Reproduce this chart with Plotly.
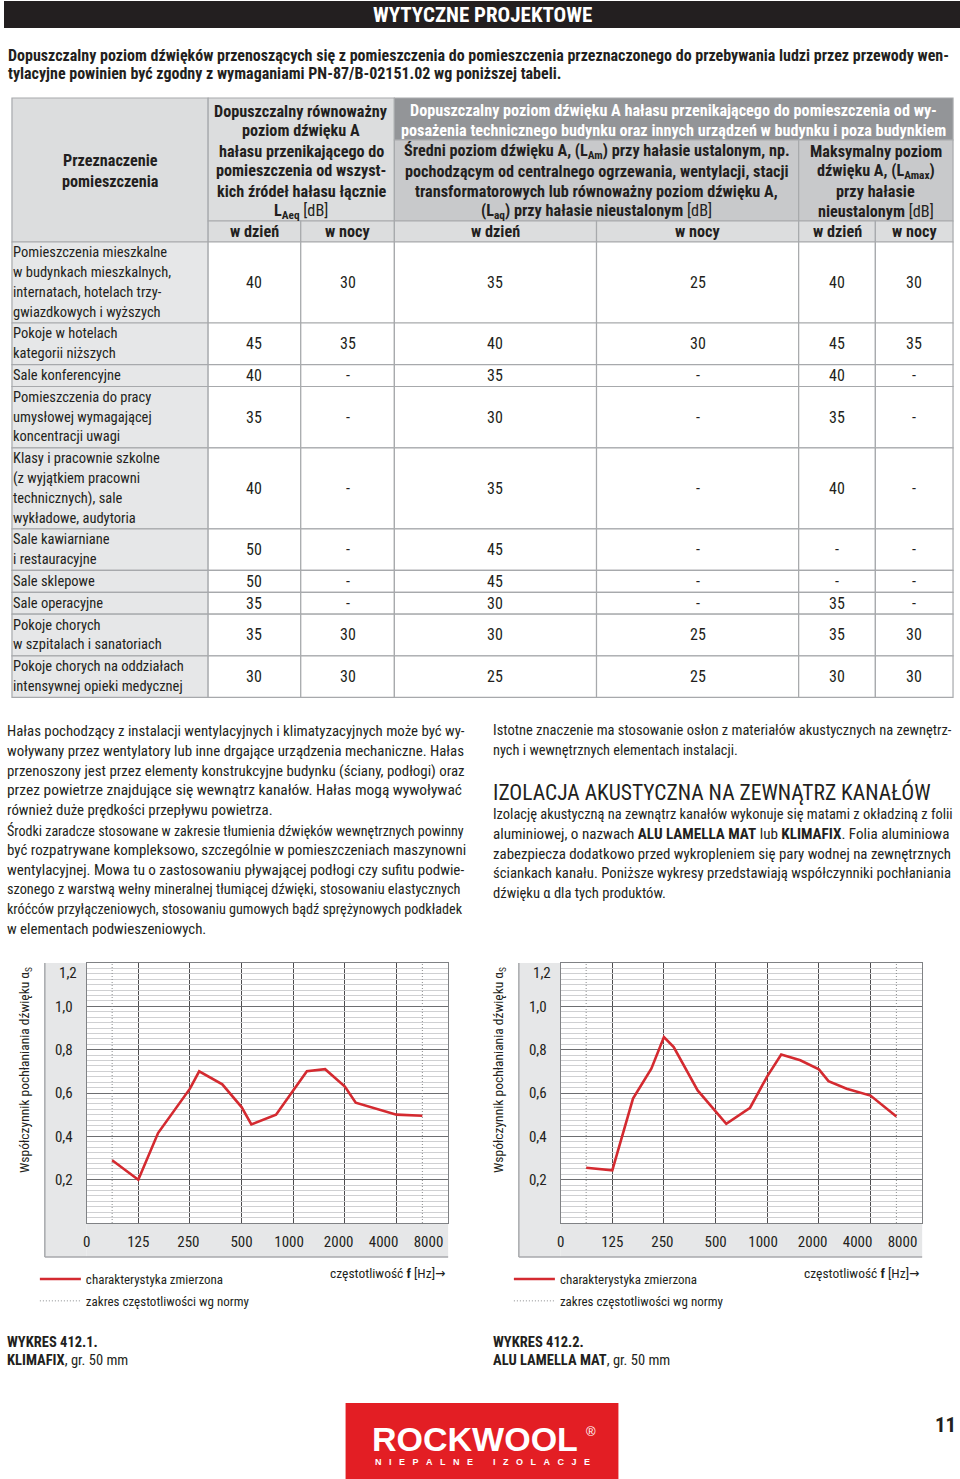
import numpy as np
import plotly.graph_objects as go

W, H = 960, 1479
FONT = "Liberation Sans Narrow, Roboto Condensed, DejaVu Sans Condensed, Arial Narrow, sans-serif"
TXT = "#231f20"
RED = "#d42a30"
GRID = "#a7a9ac"

# ---- table data ----
ROOMS = [
    ["Pomieszczenia mieszkalne", "w budynkach mieszkalnych,", "internatach, hotelach trzy-", "gwiazdkowych i wyższych"],
    ["Pokoje w hotelach", "kategorii niższych"],
    ["Sale konferencyjne"],
    ["Pomieszczenia do pracy", "umysłowej wymagającej", "koncentracji uwagi"],
    ["Klasy i pracownie szkolne", "(z wyjątkiem pracowni", "technicznych), sale", "wykładowe, audytoria"],
    ["Sale kawiarniane", "i restauracyjne"],
    ["Sale sklepowe"],
    ["Sale operacyjne"],
    ["Pokoje chorych", "w szpitalach i sanatoriach"],
    ["Pokoje chorych na oddziałach", "intensywnej opieki medycznej"],
]
LAEQ_DAY = [40, 45, 40, 35, 40, 50, 50, 35, 35, 30]
LAEQ_NIGHT = [30, 35, None, None, None, None, None, None, 30, 30]
LAM_DAY = [35, 40, 35, 30, 35, 45, 45, 30, 30, 25]
LAM_NIGHT = [25, 30, None, None, None, None, None, None, 25, 25]
LAMAX_DAY = [40, 45, 40, 35, 40, None, None, 35, 35, 30]
LAMAX_NIGHT = [30, 35, None, None, None, None, None, None, 30, 30]

H_ROOM = ["<b>Przeznaczenie</b>", "<b>pomieszczenia</b>"]
H_LAEQ = ["<b>Dopuszczalny równoważny</b>", "<b>poziom dźwięku A</b>", "<b>hałasu przenikającego do</b>",
          "<b>pomieszczenia od wszyst-</b>", "<b>kich źródeł hałasu łącznie</b>",
          "<b>L<sub>Aeq</sub></b> [dB]"]
H_TECH = ["<b>Dopuszczalny poziom dźwięku A hałasu przenikającego do pomieszczenia od wy-</b>",
          "<b>posażenia technicznego budynku oraz innych urządzeń w budynku i poza budynkiem</b>"]
H_LAM = ["<b>Średni poziom dźwięku A, (L<sub>Am</sub>) przy hałasie ustalonym, np.</b>",
         "<b>pochodzącym od centralnego ogrzewania, wentylacji, stacji</b>",
         "<b>transformatorowych lub równoważny poziom dźwięku A,</b>",
         "<b>(L<sub>aq</sub>) przy hałasie nieustalonym</b> [dB]"]
H_LAMAX = ["<b>Maksymalny poziom</b>", "<b>dźwięku A, (L<sub>Amax</sub>)</b>", "<b>przy hałasie</b>",
           "<b>nieustalonym</b> [dB]"]
H_SUB = ["w dzień", "w nocy"] * 3

# ---- chart data (sound absorption coefficient) ----
FREQ_1 = [88, 125, 163, 204, 250, 283, 386, 500, 570, 794, 1201, 1535, 2000, 2314, 4000, 5660]
ALPHA_1 = [0.29, 0.20, 0.415, 0.52, 0.62, 0.70, 0.64, 0.535, 0.455, 0.50, 0.70, 0.71, 0.63, 0.555, 0.50, 0.495]
FREQ_2 = [88, 125, 165, 211, 250, 285, 393, 577, 794, 1000, 1206, 1559, 2000, 2276, 2905, 4000, 5660]
ALPHA_2 = [0.255, 0.243, 0.574, 0.712, 0.858, 0.812, 0.612, 0.458, 0.532, 0.677, 0.778, 0.751, 0.709,
           0.655, 0.62, 0.588, 0.492]
NORM_RANGE = [88, 5660]
OCTAVES = [125, 250, 500, 1000, 2000, 4000]
X_TICKTEXT = ["0", "125", "250", "500", "1000", "2000", "4000", "8000"]
Y_TICKS = [0.2, 0.4, 0.6, 0.8, 1.0, 1.2]

# label positions along the axis (octaves from 125 Hz), squeezed as in the print
X_LABEL_POS = [-1, 0, 0.97, 2, 2.92, 3.88, 4.75, 5.62]


def oct_(f):
    return np.log2(np.asarray(f, dtype=float) / 125.0)


def px(x):
    return x / W


def py(y):
    return 1 - y / H


shapes = []
annots = []


def rect(x0, y0, x1, y1, fill, line=None, lw=0):
    shapes.append(dict(type="rect", xref="paper", yref="paper", layer="below",
                       x0=px(x0), x1=px(x1), y0=py(y1), y1=py(y0),
                       fillcolor=fill, line=dict(color=line or fill, width=lw)))


def hline(x0, x1, y, color, lw):
    shapes.append(dict(type="line", xref="paper", yref="paper", layer="below", x0=px(x0), x1=px(x1),
                       y0=py(y), y1=py(y), line=dict(color=color, width=lw)))


def vline(x, y0, y1, color, lw):
    shapes.append(dict(type="line", xref="paper", yref="paper", layer="below", x0=px(x), x1=px(x),
                       y0=py(y0), y1=py(y1), line=dict(color=color, width=lw)))


def text(x, y, s, size=15, color=TXT, xanchor="left", yanchor="middle", align="left", family=FONT, **kw):
    annots.append(dict(xref="paper", yref="paper", x=px(x), y=py(y), text=s, showarrow=False,
                       xanchor=xanchor, yanchor=yanchor, align=align, borderpad=0, borderwidth=0,
                       font=dict(family=family, size=size, color=color), **kw))


def lines(x, y_first, rows, size, lh=19.8, **kw):
    for i, r in enumerate(rows):
        s = size[i] if isinstance(size, (list, tuple)) else size
        text(x, y_first + i * lh, r, size=s, **kw)


def centred(x, y_mid, rows, size, lh=19.8, **kw):
    lines(x, y_mid - (len(rows) - 1) / 2 * lh, rows, size, lh, **kw)


# ---- page header ----
rect(0, 1, W, 28, "#231f20")
text(W / 2, 15, "<b>WYTYCZNE PROJEKTOWE</b>", size=21, color="white", xanchor="center")
lines(4, 55, ["<b>Dopuszczalny poziom dźwięków przenoszących się z pomieszczenia do pomieszczenia przeznaczonego "
              "do przebywania ludzi przez przewody wen-</b>",
              "<b>tylacyjne powinien być zgodny z wymaganiami PN-87/B-02151.02 wg poniższej tabeli.</b>"],
      16, lh=19)

# ---- table ----
COLS = [8, 205, 298, 392, 595, 798, 875, 953]
T_TOP, T_R1, T_R2, T_R3 = 98, 140, 221, 242
LIGHT, MID, DARK = "#dcddde", "#c8c9cb", "#939598"
HS = 16.2

rect(COLS[0], T_TOP, COLS[1], T_R3, LIGHT, GRID, 1.2)
centred((COLS[0] + COLS[1]) / 2, 171, H_ROOM, HS, lh=20, xanchor="center")
rect(COLS[1], T_TOP, COLS[3], T_R2, LIGHT, GRID, 1.2)
centred((COLS[1] + COLS[3]) / 2, 161, H_LAEQ, HS, lh=20, xanchor="center")
rect(COLS[3], T_TOP, COLS[7], T_R1, DARK, GRID, 1.2)
centred((COLS[3] + COLS[7]) / 2, 120.5, H_TECH, HS, lh=19.5, color="white", xanchor="center")
rect(COLS[3], T_R1, COLS[5], T_R2, MID, GRID, 1.2)
centred((COLS[3] + COLS[5]) / 2, 181.5, H_LAM, HS, lh=19.7, xanchor="center")
rect(COLS[5], T_R1, COLS[7], T_R2, MID, GRID, 1.2)
centred((COLS[5] + COLS[7]) / 2, 181.5, H_LAMAX, HS, lh=19.7, xanchor="center")
for j, lab in enumerate(H_SUB):
    rect(COLS[j + 1], T_R2, COLS[j + 2], T_R3, LIGHT, GRID, 1.2)
    text((COLS[j + 1] + COLS[j + 2]) / 2, (T_R2 + T_R3) / 2, "<b>%s</b>" % lab, size=HS, xanchor="center")

body_cols = [LAEQ_DAY, LAEQ_NIGHT, LAM_DAY, LAM_NIGHT, LAMAX_DAY, LAMAX_NIGHT]
top = T_R3
for i, name in enumerate(ROOMS):
    h = 19.7 * len(name) + 2.2
    y0, y1 = top, top + h
    mid = (y0 + y1) / 2
    rect(COLS[0], y0, COLS[1], y1, "#e6e7e8", GRID, 1.2)
    centred(COLS[0] + 1, mid, name, 14.5)
    for j, col in enumerate(body_cols):
        rect(COLS[j + 1], y0, COLS[j + 2], y1, "white", GRID, 1.2)
        v = col[i]
        text((COLS[j + 1] + COLS[j + 2]) / 2, mid, "-" if v is None else str(v), size=16, xanchor="center")
    top = y1

# ---- body text ----
LEFT_TEXT = [
    "Hałas pochodzący z instalacji wentylacyjnych i klimatyzacyjnych może być wy-",
    "woływany przez wentylatory lub inne drgające urządzenia mechaniczne. Hałas",
    "przenoszony jest przez elementy konstrukcyjne budynku (ściany, podłogi) oraz",
    "przez powietrze znajdujące się wewnątrz kanałów. Hałas mogą wywoływać",
    "również duże prędkości przepływu powietrza.",
    "Środki zaradcze stosowane w zakresie tłumienia dźwięków wewnętrznych powinny",
    "być rozpatrywane kompleksowo, szczególnie w pomieszczeniach maszynowni",
    "wentylacyjnej. Mowa tu o zastosowaniu pływającej podłogi czy sufitu podwie-",
    "szonego z warstwą wełny mineralnej tłumiącej dźwięki, stosowaniu elastycznych",
    "króćców przyłączeniowych, stosowaniu gumowych bądź sprężynowych podkładek",
    "w elementach podwieszeniowych.",
]
lines(3, 731, LEFT_TEXT, [14.85, 14.9, 14.9, 15.45, 14.9, 14.05, 14.95, 15, 14.3, 14.15, 14.9])
lines(491, 731, ["Istotne znaczenie ma stosowanie osłon z materiałów akustycznych na zewnętrz-",
                 "nych i wewnętrznych elementach instalacji."], [14.5, 14.4])
text(491, 792, "IZOLACJA AKUSTYCZNA NA ZEWNĄTRZ KANAŁÓW", size=21.5)
lines(491, 814, [
    "Izolację akustyczną na zewnątrz kanałów wykonuje się matami z okładziną z folii",
    "aluminiowej, o nazwach <b>ALU LAMELLA MAT</b> lub <b>KLIMAFIX</b>. Folia aluminiowa",
    "zabezpiecza dodatkowo przed wykropleniem się pary wodnej na zewnętrznych",
    "ściankach kanału. Poniższe wykresy przedstawiają współczynniki pochłaniania",
    "dźwięku α dla tych produktów.",
], [14.45, 15.1, 14.9, 14.75, 14.6])

# ---- charts ----
fig = go.Figure()
CHARTS = [
    (FREQ_1, ALPHA_1, ["<b>WYKRES 412.1.</b>", "<b>KLIMAFIX</b>, gr. 50 mm"], 3),
    (FREQ_2, ALPHA_2, ["<b>WYKRES 412.2.</b>", "<b>ALU LAMELLA MAT</b>, gr. 50 mm"], 491),
]
PLOT_L, PLOT_R, PLOT_T, PLOT_B = 83, 446, 963, 1223
for k, (freq, alpha, caption, cap_x) in enumerate(CHARTS):
    dx = 476 * k
    sfx = "" if k == 0 else str(k + 1)
    leg = "legend" if k == 0 else "legend2"
    lo, hi = oct_(NORM_RANGE)
    fig.add_trace(go.Scatter(
        x=[lo, lo, None, hi, hi], y=[0, Y_TICKS[-1], None, 0, Y_TICKS[-1]],
        mode="lines", line=dict(color="#8a8c8e", width=1, dash="1px,2px"),
        name="zakres częstotliwości wg normy", legend=leg, legendrank=2,
        legendgroup="norm%d" % k,
        xaxis="x" + sfx, yaxis="y" + sfx, hoverinfo="skip"))
    fig.add_trace(go.Scatter(
        x=oct_(freq), y=alpha, mode="lines", line=dict(color=RED, width=2.6),
        name="charakterystyka zmierzona", legend=leg, legendrank=1,
        legendgroup="meas%d" % k,
        xaxis="x" + sfx, yaxis="y" + sfx))

    fig.update_layout({
        "xaxis" + sfx: dict(
            domain=[px(PLOT_L + dx), px(PLOT_R + dx)], anchor="y" + sfx, range=[-1, 6],
            tickmode="array", tickvals=X_LABEL_POS, ticktext=X_TICKTEXT, showgrid=False,
            ticks="", ticklabelstandoff=5, zeroline=False,
            showline=True, mirror=True, linecolor="#808285", linewidth=1,
            tickfont=dict(family=FONT, size=15, color=TXT),
            minor=dict(tickmode="array", tickvals=list(oct_(OCTAVES)), showgrid=True,
                       gridcolor="#4d4d4f", gridwidth=1, ticks=""),
        ),
        "yaxis" + sfx: dict(
            domain=[py(PLOT_B), py(PLOT_T)], anchor="x" + sfx, range=[0, Y_TICKS[-1]],
            tickmode="array", tickvals=Y_TICKS[:-1],
            ticktext=[("%.1f" % v).replace(".", ",") for v in Y_TICKS[:-1]],
            showgrid=True, gridcolor="#6d6e71", gridwidth=1, ticks="", ticklabelstandoff=10,
            zeroline=False, showline=True, mirror=True, linecolor="#808285", linewidth=1,
            tickfont=dict(family=FONT, size=15, color=TXT),
            minor=dict(dtick=0.025, showgrid=True, gridcolor="#cfd0d2", gridwidth=0.6, ticks=""),
        ),
        leg: dict(x=px(31 + dx), y=py(1264), xanchor="left", yanchor="top",
                  bgcolor="rgba(0,0,0,0)", itemwidth=41, tracegroupgap=2,
                  font=dict(family=FONT, size=13, color=TXT)),
    })
    # top label sits just under the frame, as printed
    annots.append(dict(xref="paper", yref="y" + sfx, x=px(73 + dx), y=Y_TICKS[-1], yshift=-10,
                       text=("%.1f" % Y_TICKS[-1]).replace(".", ","), showarrow=False,
                       xanchor="right", yanchor="middle", borderpad=0, borderwidth=0,
                       font=dict(family=FONT, size=15, color=TXT)))

    # grey frame around the axes labels
    rect(41 + dx, PLOT_T, PLOT_L + dx, 1257, "#e6e7e8")
    rect(PLOT_L + dx, PLOT_B, PLOT_R + dx, 1257, "#e6e7e8")
    vline(41 + dx, PLOT_T, 1257, "#a7a9ac", 1.5)
    hline(41 + dx, PLOT_R + dx, 1257, "#a7a9ac", 1.5)

    text(21 + dx, 1070, "Współczynnik pochłaniania dźwięku α<sub>S</sub>", size=13.5, xanchor="center",
         textangle=-90)
    text(443 + dx, 1273, "częstotliwość <b>f</b> [Hz]→", size=13.5, xanchor="right")
    lines(cap_x, 1342, caption, 14.5, lh=18)

# ---- footer ----
rect(343, 1403, 617, H, "#e31e24")
LOGO_FONT = "Liberation Sans, Arial, sans-serif"
text(473, 1439, "<b>ROCKWOOL</b>", size=34, color="white", xanchor="center", family=LOGO_FONT)
text(589, 1431, "®", size=13, color="white", xanchor="center", family=LOGO_FONT)
text(480, 1462, "<b>" + "\u00a0\u00a0\u00a0".join("NIEPALNE") + "\u00a0" * 8
     + "\u00a0\u00a0\u00a0".join("IZOLACJE") + "</b>", size=9, color="white", xanchor="center",
     family=LOGO_FONT)
text(945, 1425, "<b>11</b>", size=21, xanchor="center")

fig.update_layout(
    width=W, height=H, autosize=False,
    margin=dict(l=0, r=0, t=0, b=0),
    paper_bgcolor="white", plot_bgcolor="white",
    showlegend=True,
    shapes=shapes, annotations=annots,
    font=dict(family=FONT, color=TXT),
)
fig.write_html("out.html", config={"displayModeBar": False},
               post_script="document.body.style.margin = '0px';")
